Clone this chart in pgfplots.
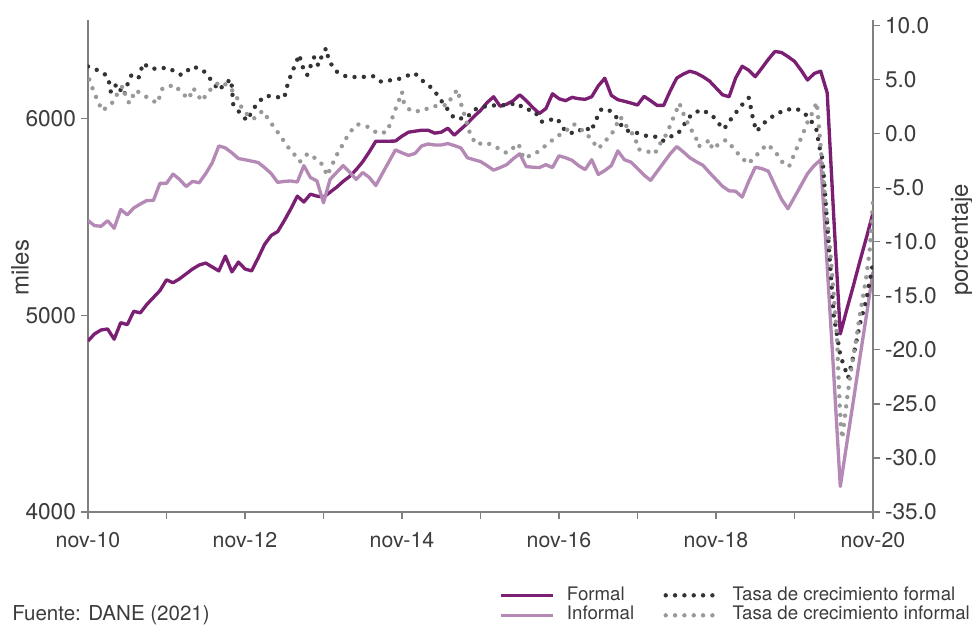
\documentclass[border=0pt]{standalone}
\usepackage{pgfplots}
\usepackage{pgfplotstable}
\pgfplotsset{compat=1.18}
\usepackage{fontspec}
\setmainfont{TeX Gyre Heros}
\definecolor{formalc}{HTML}{7B1F73}
\definecolor{informalc}{HTML}{B589B5}
\definecolor{darkdot}{HTML}{333333}
\definecolor{lightdot}{HTML}{999999}
\definecolor{axisgray}{HTML}{808080}
\definecolor{textgray}{HTML}{3C3C3C}

\pgfplotstableread{
m v
0 4869
1 4905
2 4925
3 4930
4 4878
5 4962
6 4952
7 5020
8 5012
9 5055
10 5090
11 5125
12 5180
13 5165
14 5185
15 5210
16 5235
17 5255
18 5265
19 5245
20 5225
21 5300
22 5220
23 5270
24 5235
25 5225
26 5290
27 5360
28 5405
29 5425
30 5480
31 5540
32 5605
33 5575
34 5615
35 5605
36 5600
37 5625
38 5650
39 5680
40 5705
41 5740
42 5780
43 5830
44 5884
45 5884
46 5884
47 5885
48 5910
49 5930
50 5935
51 5940
52 5940
53 5925
54 5930
55 5950
56 5915
57 5945
58 5975
59 6010
60 6040
61 6080
62 6110
63 6062
64 6072
65 6090
66 6120
67 6090
68 6055
69 6025
70 6050
71 6125
72 6100
73 6090
74 6107
75 6100
76 6097
77 6110
78 6165
79 6204
80 6117
81 6095
82 6087
83 6078
84 6068
85 6112
86 6090
87 6066
88 6066
89 6140
90 6205
91 6225
92 6240
93 6230
94 6212
95 6190
96 6155
97 6120
98 6110
99 6205
100 6265
101 6245
102 6212
103 6255
104 6300
105 6340
106 6335
107 6314
108 6290
109 6245
110 6195
111 6228
112 6240
113 6130
114 5500
115 4905
116 5030
117 5150
118 5275
119 5395
120 5520
}\formaltab

\pgfplotstableread{
m v
0 5481
1 5455
2 5452
3 5480
4 5442
5 5537
6 5510
7 5545
8 5565
9 5583
10 5583
11 5670
12 5670
13 5717
14 5690
15 5654
16 5680
17 5673
18 5720
19 5775
20 5860
21 5850
22 5825
23 5796
24 5790
25 5783
26 5776
27 5750
28 5720
29 5675
30 5680
31 5682
32 5677
33 5760
34 5700
35 5682
36 5571
37 5690
38 5725
39 5760
40 5727
41 5690
42 5725
43 5700
44 5659
45 5720
46 5780
47 5840
48 5825
49 5812
50 5822
51 5860
52 5870
53 5865
54 5865
55 5872
56 5862
57 5850
58 5800
59 5790
60 5781
61 5760
62 5737
63 5750
64 5765
65 5795
66 5820
67 5755
68 5752
69 5750
70 5765
71 5750
72 5810
73 5800
74 5787
75 5760
76 5740
77 5790
78 5715
79 5735
80 5760
81 5835
82 5790
83 5778
84 5745
85 5712
86 5685
87 5730
88 5775
89 5820
90 5857
91 5830
92 5800
93 5780
94 5762
95 5725
96 5690
97 5655
98 5632
99 5630
100 5600
101 5680
102 5752
103 5745
104 5732
105 5660
106 5590
107 5541
108 5600
109 5660
110 5720
111 5760
112 5790
113 5250
114 4700
115 4130
116 4350
117 4565
118 4785
119 5000
120 5220
}\informaltab

\pgfplotstableread{
m p
0 6.2
1.3 5.9
2.8 5.4
3.3 4.6
3.5 3.8
4.4 4.6
5.5 3.5
6 4.5
6.7 5.5
7.8 5.2
8.4 6.5
9.6 6.0
10.8 6.0
12.1 6.1
13.1 5.8
14.3 5.4
16 6.2
17.5 5.9
18.4 5.3
19.2 4.6
20.1 4.0
20.8 4.6
21.9 5.0
22.2 2.7
23.1 2.0
24.3 1.2
25.1 2.1
26 2.9
27.2 3.5
28.5 3.4
30 3.3
30.4 4.3
31 5.4
31.7 6.4
32.3 7.3
32.7 6.3
33.5 5.4
34 6.2
34.6 7.1
35.2 6.3
35.7 7.1
36.4 7.9
36.8 6.8
37.8 5.8
39.4 5.3
41.2 5.2
43.6 5.3
44.8 4.8
45.9 4.9
47.3 5.0
48.6 5.3
49.9 5.6
51.3 4.8
52.8 4.1
53.8 3.2
54.9 2.3
56 1.4
57.8 1.4
59 2.2
61.2 2.6
63.2 2.6
65.7 2.8
66.6 2.3
68.2 2.1
69.4 1.1
71.7 1.4
73 0.2
74.4 0.0
76 0.6
76.9 0.2
77.6 1.2
78.4 2.2
79.3 2.3
80.5 1.8
81.2 1.0
82.2 0.3
83.7 0.1
85.3 -0.2
86.8 -0.3
87.8 -0.7
89 -0.3
90.2 0.0
91.2 0.9
92.3 1.8
93.8 2.2
95.4 1.7
96.3 1.0
97.2 0.4
98 1.1
99 1.9
99.9 2.6
101 3.3
101.4 2.2
101.7 1.2
102.2 0.2
103.4 1.0
104.9 1.7
106.6 2.2
108.3 2.3
109.5 1.9
110.5 1.2
111.3 0.5
111.9 -1.5
112.3 -2.4
113 -8.4
114 -16.8
115 -20.5
116.2 -22.6
117 -20.6
118 -17.6
119 -15.3
120 -12.0
}\tasaformaltab

\pgfplotstableread{
m p
0.2 5.0
0.8 4.0
1.5 3.0
2.2 2.1
3.8 2.9
4.5 3.7
5.3 4.4
5.7 3.6
6.3 2.8
7.3 4.0
8.9 3.4
10.6 2.8
11 3.5
11.4 4.2
13.2 4.5
14.3 3.8
15.4 3.2
16.1 4.2
17.4 3.0
18.2 3.7
19.2 4.4
20.3 4.8
21.7 4.3
22.7 3.4
23.4 2.5
24.2 1.85
25.3 1.35
26.7 2.1
27.6 1.3
28.6 0.46
29.5 -0.3
30.5 -1.2
31.5 -1.9
32.4 -2.6
33.6 -1.85
35.3 -2.5
36.1 -3.1
36.5 -3.9
37.2 -3.1
37.8 -2.2
38.6 -1.4
39.4 -0.5
40.3 0.3
41.2 0.86
42.9 0.6
44.3 0.0
45.7 0.15
46.3 1.07
46.9 2.1
47.5 3.0
48 3.85
48.3 2.8
49.3 2.1
51 2.06
52.4 2.46
53.7 2.6
55 2.64
55.6 3.4
56.5 4.07
56.9 3.0
57.4 2.0
58.4 0.0
59.3 -1.0
60.9 -0.83
62.5 -1.3
64 -1.8
65.8 -0.94
66.6 -2.3
68.5 -1.8
70 -1.1
71.4 -0.4
73 0.24
74.3 0.86
76.2 0.0
77.1 -0.68
78 -1.4
79.1 -0.68
80.1 0.0
80.8 0.83
81.4 1.53
82.4 0.6
83.6 -0.3
84.1 -1.45
85.3 -1.6
86.6 -1.9
87.5 -0.9
88.5 0.0
89.1 0.92
89.8 1.9
90.4 2.8
90.9 2.0
91.4 1.3
92.1 0.46
92.9 -0.3
93.3 -1.2
95.1 -0.6
95.4 -1.45
96.4 -1.0
97.5 -0.6
98.6 -1.3
99.7 -2.1
100.9 -2.8
101.9 -2.2
102.8 -1.6
103.8 -1.0
104.8 -1.5
105.7 -2.2
106.4 -2.9
107.2 -3.0
107.9 -2.0
108.6 -1.0
109.3 0.0
110 1.07
110.8 2.0
111.4 2.9
111.7 0.9
112.3 -3.4
112.7 -6.2
113.2 -9.2
113.7 -12.6
114.1 -15.7
114.5 -18.8
114.7 -22.2
114.9 -25.0
115.1 -27.1
115.3 -28.2
115.7 -26.2
116.1 -24.2
116.5 -22.5
117 -20.6
117.5 -18.8
117.9 -17.1
118.4 -15.3
118.9 -13.6
119.5 -10.8
120 -6.3
}\tasainformaltab

\pgfplotsset{
  common/.style={
    scale only axis, width=588.75pt, height=369pt,
    xmin=0, xmax=120,
    axis line style={axisgray, line width=1.1pt},
    tick style={axisgray, line width=1pt},
    tick align=outside,
    major tick length=5.5pt,
    tick label style={text=textgray},
    label style={text=textgray},
    /pgf/number format/assume math mode=true,
  },
  formalst/.style={formalc, line width=2.5pt, line join=round},
  informalst/.style={informalc, line width=2.5pt, line join=round},
  darkdotst/.style={darkdot, line width=3.3pt, line cap=round, dash pattern=on 0pt off 7pt},
  lightdotst/.style={lightdot, line width=3.3pt, line cap=round, dash pattern=on 0pt off 7pt},
}

\begin{document}
\begin{tikzpicture}
\begin{axis}[common,
  axis y line*=left, axis x line*=bottom,
  ymin=4000, ymax=6500, ytick={4000,5000,6000},
  yticklabel style={font=\fontsize{17}{17}\selectfont, /pgf/number format/1000 sep={}},
  xtick={0,12,...,120},
  xticklabels={nov-10,,nov-12,,nov-14,,nov-16,,nov-18,,nov-20},
  xticklabel style={font=\fontsize{16}{16}\selectfont, yshift=-6pt},
  ylabel={miles},
  ylabel style={at={(axis description cs:-0.0866,0.496)}, anchor=center, font=\fontsize{18}{18}\selectfont},
]
\addplot[formalst] table[x=m, y=v] {\formaltab};
\addplot[informalst] table[x=m, y=v] {\informaltab};
\end{axis}
\begin{axis}[common,
  axis y line*=right, axis x line=none,
  ymin=-35, ymax=10.5, ytick={-35,-30,...,10},
  yticklabel style={font=\fontsize{17}{17}\selectfont, /pgf/number format/.cd, fixed, fixed zerofill, precision=1},
  ylabel={porcentaje},
  ylabel style={at={(axis description cs:1.1134,0.553)}, anchor=center, rotate=0, font=\fontsize{18}{18}\selectfont},
  legend columns=2,
  legend cell align=left,
  legend image code/.code={\draw[#1] (0pt,0pt) -- (39pt,0pt);},
  legend style={at={(rel axis cs:0.5232,-0.1485)}, anchor=north west, draw=none, fill=none, inner sep=0pt,
    font=\fontsize{14}{14}\selectfont, text=textgray,
    nodes={inner sep=1pt, text height=10pt, text depth=3pt},
    /tikz/every odd column/.append style={column sep=8.5pt},
    /tikz/every even column/.append style={column sep=21pt}},
]
\addlegendimage{formalst}
\addlegendentry{Formal}
\addplot[darkdotst] table[x=m, y=p] {\tasaformaltab};
\addlegendentry{Tasa de crecimiento formal}
\addlegendimage{informalst}
\addlegendentry{Informal}
\addplot[lightdotst] table[x=m, y=p] {\tasainformaltab};
\addlegendentry{Tasa de crecimiento informal}
\end{axis}
\node[anchor=base west, font=\fontsize{15.4}{15.4}\selectfont, text=textgray, inner sep=0pt] at (-57pt,-81.5pt) {Fuente: DANE (2021)};
\pgfresetboundingbox
\path[use as bounding box] (-66pt,-85.5pt) rectangle (663pt,384pt);
\end{tikzpicture}
\end{document}
